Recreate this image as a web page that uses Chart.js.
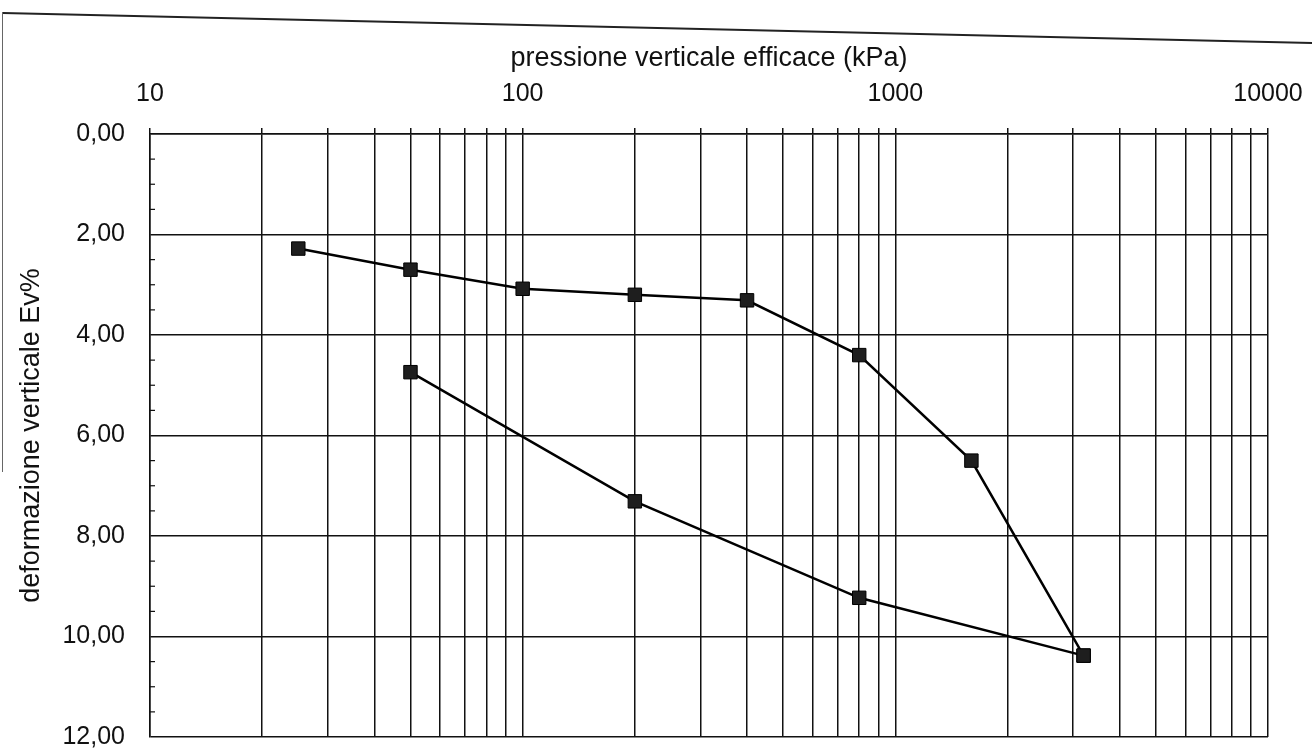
<!DOCTYPE html>
<html>
<head>
<meta charset="utf-8">
<script src="https://cdn.jsdelivr.net/npm/chart.js@4.4.1/dist/chart.umd.min.js"></script>
<style>
  html, body { margin: 0; padding: 0; background: #fff; }
  #wrap { position: relative; width: 1312px; height: 751px; overflow: hidden; }
  #frameTop { position: absolute; left: 3px; top: 12px; width: 1320px; height: 0;
    border-top: 2px solid #222; transform-origin: 0 0; transform: rotate(1.31deg); }
  #frameLeft { position: absolute; left: 2px; top: 12px; width: 0; height: 460px;
    border-left: 1px solid #666; }
  canvas { position: absolute; left: 0; top: 0; }
</style>
</head>
<body>
<div id="wrap">
  <canvas id="edoChart" width="1312" height="751"></canvas>
  <div id="frameTop"></div>
  <div id="frameLeft"></div>
</div>
<script>
// carico: pressione (kPa) e deformazione verticale (%)
var caricoP = [25, 50, 100, 200, 400, 800, 1600, 3200];
var caricoEv = [2.28, 2.70, 3.08, 3.20, 3.31, 4.40, 6.50, 10.38];
// scarico
var scaricoP = [3200, 800, 200, 50];
var scaricoEv = [10.38, 9.23, 7.31, 4.74];

// asse x logaritmico
var decadi = [10, 100, 1000];
var multipli = [1, 2, 3, 4, 5, 6, 7, 8, 9];
var etichetteX = [10, 100, 1000, 10000];
var xMin = 10, xMax = 10000;
// asse y
var yMin = 0, yMax = 12, yStep = 2, yMinorStep = 0.5;

var grigliaX = [];
decadi.forEach(function (d) {
  multipli.forEach(function (m) { grigliaX.push(d * m); });
});
grigliaX.push(xMax);

function punti(px, py) {
  return px.map(function (p, i) { return {x: p, y: py[i]}; });
}

var FONT = "'Liberation Sans', Arial, sans-serif";
var NERO = '#111';

var minorTicks = {
  id: 'minorTicks',
  afterDraw: function (chart) {
    var ctx = chart.ctx, area = chart.chartArea, y = chart.scales.y;
    ctx.save();
    ctx.strokeStyle = NERO;
    ctx.lineWidth = 1.2;
    for (var v = yMin + yMinorStep; v < yMax; v += yMinorStep) {
      if (v % yStep === 0) continue;
      var py = y.getPixelForValue(v);
      ctx.beginPath();
      ctx.moveTo(area.left, py);
      ctx.lineTo(area.left + 5, py);
      ctx.stroke();
    }
    ctx.restore();
  }
};

var stileSerie = {
  showLine: true,
  borderColor: '#000',
  borderWidth: 2.5,
  pointStyle: 'rect',
  pointRadius: 9.5,
  pointBackgroundColor: '#1e1e1e',
  pointBorderColor: '#000',
  pointBorderWidth: 1,
  tension: 0
};

var ctx = document.getElementById('edoChart').getContext('2d');
var edoChart = new Chart(ctx, {
  type: 'scatter',
  data: {
    datasets: [
      Object.assign({label: 'carico', data: punti(caricoP, caricoEv)}, stileSerie),
      Object.assign({label: 'scarico', data: punti(scaricoP, scaricoEv)}, stileSerie)
    ]
  },
  options: {
    responsive: false,
    animation: false,
    devicePixelRatio: 1,
    layout: { padding: {left: 0, right: 44, top: 0, bottom: 14} },
    plugins: {
      legend: { display: false },
      tooltip: { enabled: false }
    },
    scales: {
      x: {
        type: 'logarithmic',
        position: 'top',
        min: xMin,
        max: xMax,
        afterBuildTicks: function (scale) {
          scale.ticks = grigliaX.map(function (v) { return {value: v}; });
        },
        afterFit: function (scale) {
          scale.height = 134;
          scale.paddingLeft = 0;
          scale.paddingRight = 0;
        },
        ticks: {
          autoSkip: false,
          maxRotation: 0,
          padding: 18.6,
          color: NERO,
          font: {family: FONT, size: 25},
          callback: function (value) {
            return etichetteX.indexOf(value) >= 0 ? String(value) : '';
          }
        },
        grid: { color: NERO, lineWidth: 1.5, tickLength: 6 },
        border: { color: NERO, width: 1.5 },
        title: {
          display: true,
          text: 'pressione verticale efficace (kPa)',
          color: NERO,
          font: {family: FONT, size: 27},
          padding: {top: 42, bottom: 0}
        }
      },
      y: {
        type: 'linear',
        reverse: true,
        min: yMin,
        max: yMax,
        afterFit: function (scale) {
          scale.width = 150;
          scale.paddingTop = 0;
          scale.paddingBottom = 0;
        },
        ticks: {
          stepSize: yStep,
          padding: 25,
          color: NERO,
          font: {family: FONT, size: 25},
          callback: function (value) {
            return value.toFixed(2).replace('.', ',');
          }
        },
        grid: { color: NERO, lineWidth: 1.5, drawTicks: false },
        border: { color: NERO, width: 1.5 },
        title: {
          display: true,
          text: 'deformazione verticale Ev%',
          color: NERO,
          font: {family: FONT, size: 27},
          padding: {top: 15, bottom: 0}
        }
      }
    }
  },
  plugins: [minorTicks]
});
</script>
</body>
</html>
